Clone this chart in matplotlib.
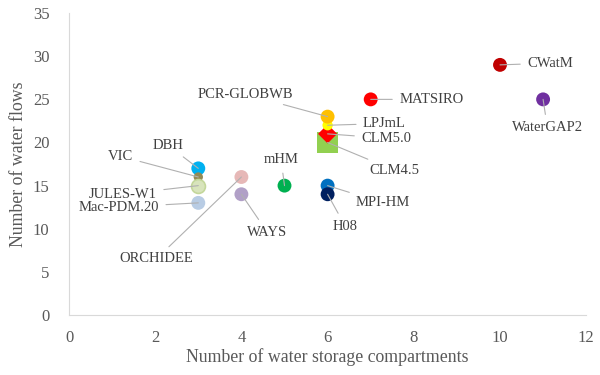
import matplotlib.pyplot as plt

# данные моделей
models = ['CLM4.5', 'CLM5.0', 'LPJmL', 'PCR-GLOBWB', 'MATSIRO', 'CWatM', 'WaterGAP2',
          'MPI-HM', 'H08', 'mHM', 'ORCHIDEE', 'WAYS', 'DBH', 'VIC', 'JULES-W1', 'Mac-PDM.20']
storages = [6, 6, 6, 6, 7, 10, 11, 6, 6, 5, 4, 4, 3, 3, 3, 3]
flows = [20, 21, 22, 23, 25, 29, 25, 15, 14, 15, 16, 14, 17, 16, 15, 13]

# стиль маркеров
colors = ['#92d050', '#ff0000', '#ffff00', '#ffc000', '#ff0000', '#c00000', '#7030a0',
          '#0070c0', '#002060', '#00b050', '#e6b8b7', '#b1a0c7', '#00b0f0', '#948a54',
          '#d8e4bc', '#b8cce4']
markers = ['s', 'D', 'o', 'o', 'o', 'o', 'o', 'o', 'o', 'o', 'o', 'o', 'o', 'o', 'o', 'o']
sizes = [230, 95, 55, 100, 100, 100, 100, 100, 100, 100, 100, 100, 100, 45, 100, 100]

# положение подписей (x, y, выравнивание)
label_pos = [(6.96, 16.8, 'left'), (6.78, 20.5, 'left'), (6.82, 22.2, 'left'),
             (5.20, 25.6, 'right'), (7.66, 25.0, 'left'), (10.63, 29.2, 'left'),
             (11.10, 21.7, 'center'), (6.66, 13.0, 'left'), (6.41, 10.3, 'center'),
             (4.92, 18.0, 'center'), (2.88, 6.5, 'right'), (4.60, 9.6, 'center'),
             (2.65, 19.7, 'right'), (1.49, 18.4, 'right'), (2.04, 14.0, 'right'),
             (2.09, 12.5, 'right')]

plt.rcParams['font.family'] = ['Liberation Serif', 'DejaVu Serif']

fig = plt.figure(figsize=(6, 3.75), dpi=100)
ax = fig.add_axes([0.115, 0.16, 0.862, 0.805])

for i in range(len(models)):
    edge = '#c4d79b' if models[i] == 'JULES-W1' else 'none'
    ax.scatter(storages[i], flows[i], s=sizes[i], c=colors[i], marker=markers[i],
               edgecolors=edge, linewidths=1.2, zorder=3)
    lx, ly, ha = label_pos[i]
    ax.annotate(models[i], xy=(storages[i], flows[i]), xytext=(lx, ly),
                ha=ha, va='center', fontsize=10.5, color='#404040',
                arrowprops=dict(arrowstyle='-', color='#b0b0b0', lw=0.8,
                                shrinkA=3, shrinkB=0), zorder=4)

ax.set_xlim(0, 12)
ax.set_ylim(0, 35)
ax.set_xticks(range(0, 13, 2))
ax.set_yticks(range(0, 36, 5))
ax.tick_params(length=0, labelsize=12, labelcolor='#595959')
ax.tick_params(axis='x', pad=10.5)
ax.tick_params(axis='y', pad=14)
for side in ['top', 'right']:
    ax.spines[side].set_visible(False)
for side in ['left', 'bottom']:
    ax.spines[side].set_color('#d9d9d9')

ax.set_xlabel('Number of water storage compartments', fontsize=12.8, color='#595959', labelpad=2)
ax.set_ylabel('Number of water flows', fontsize=12.8, color='#595959', labelpad=4)

plt.savefig('out.png')
